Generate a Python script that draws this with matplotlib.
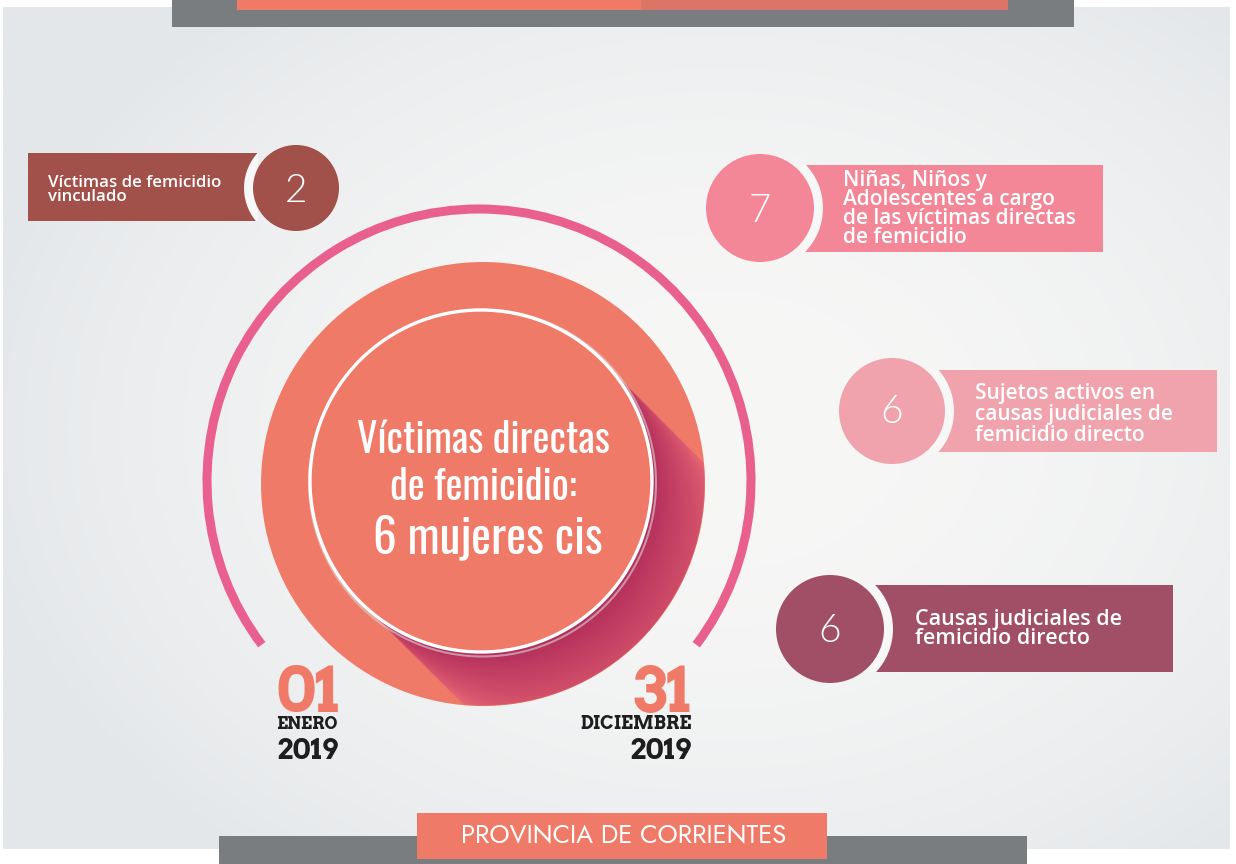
import numpy as np
import matplotlib
matplotlib.use("Agg")
import matplotlib.pyplot as plt
from matplotlib.patches import Rectangle, Circle, Arc

# ---------------- data ----------------
central_lines = ["Víctimas directas", "de femicidio:"]
central_value = "6 mujeres cis"
card_numbers = ["2", "7", "6", "6"]
card_labels = [
    "Víctimas de femicidio\nvinculado",
    "Niñas, Niños y\nAdolescentes a cargo\nde las víctimas directas\nde femicidio",
    "Sujetos activos en\ncausas judiciales de\nfemicidio directo",
    "Causas judiciales de\nfemicidio directo",
]
card_colors = ["#A2514A", "#F38797", "#F0A3AD", "#A04F67"]
start_day, start_month, start_year = "01", "ENERO", "2019"
end_day, end_month, end_year = "31", "DICIEMBRE", "2019"
province = "PROVINCIA DE CORRIENTES"

SALMON = "#F07A68"
ARC_PINK = "#E9608F"
GRAY = "#7A7D80"

W, H = 1236, 864
fig = plt.figure(figsize=(W / 100, H / 100), dpi=100)
ax = fig.add_axes([0, 0, 1, 1])
ax.set_xlim(0, W)
ax.set_ylim(H, 0)
ax.axis("off")
fig.patch.set_facecolor("white")

# ---------------- background panel (soft radial gradient) ----------------
gx = np.linspace(3, 1230, 300)
gy = np.linspace(7, 849, 220)
GX, GY = np.meshgrid(gx, gy)
d = np.sqrt(((GX - 720) / 760) ** 2 + ((GY - 430) / 560) ** 2)
d = np.clip(d, 0, 1)
c_in = np.array([247, 247, 246]) / 255
c_out = np.array([228, 231, 234]) / 255
k = d[..., None] ** 2.0
bg = c_in[None, None, :] * (1 - k) + c_out[None, None, :] * k
ax.imshow(bg, extent=(3, 1230, 849, 7), origin="upper", interpolation="bilinear", zorder=0)

# ---------------- top bar ----------------
ax.add_patch(Rectangle((172, 0), 902, 27, facecolor=GRAY, edgecolor="none", zorder=1))
ax.add_patch(Rectangle((237, 0), 404, 10, facecolor=SALMON, edgecolor="none", zorder=2))
ax.add_patch(Rectangle((641, 0), 367, 10, facecolor="#DC7467", edgecolor="none", zorder=2))

# ---------------- bottom bar ----------------
ax.add_patch(Rectangle((219, 836), 808, 30, facecolor=GRAY, edgecolor="none", zorder=1))
ax.add_patch(Rectangle((417, 813), 410, 46, facecolor=SALMON, edgecolor="none", zorder=2))
ax.text(624, 836, province, color="white", fontsize=18.5,
        family=["Jost", "Questrial", "DejaVu Sans"],
        ha="center", va="center", zorder=3)

# ---------------- pink arc ----------------
acx, acy, ar = 479, 481, 272
ax.add_patch(Arc((acx, acy), 2 * ar, 2 * ar, theta1=143, theta2=397,
                 color=ARC_PINK, lw=6.5, zorder=2, capstyle="butt"))

# ---------------- big circle + long shadow ----------------
bcx, bcy, br = 483, 484, 222
icx, icy, ir = 481, 481, 171
ax.add_patch(Circle((bcx, bcy), br, facecolor=SALMON, edgecolor="none", zorder=3))

x0, x1, y0, y1 = bcx - br - 2, bcx + br + 2, bcy - br - 2, bcy + br + 2
nx, ny = int(x1 - x0) * 2, int(y1 - y0) * 2
xs = np.linspace(x0, x1, nx)
ys = np.linspace(y0, y1, ny)
X, Y = np.meshgrid(xs, ys)
dvec = np.array([1, 1]) / np.sqrt(2)
nvec = np.array([1, -1]) / np.sqrt(2)
px, py = X - icx, Y - icy
t = px * dvec[0] + py * dvec[1]
s = px * nvec[0] + py * nvec[1]
band = np.clip((ir - np.abs(s)) * 2, 0, 1)
t0 = np.sqrt(np.clip(ir ** 2 - s ** 2, 0, None))
dist = t - t0
ahead = np.clip(dist * 2 + 0.5, 0, 1) * (t > 0)
inbig = np.clip((br - np.sqrt((X - bcx) ** 2 + (Y - bcy) ** 2)) * 2, 0, 1)
alpha = band * ahead * inbig
u = np.clip(dist / 130.0, 0, 1) ** 0.8
dark = np.array([178, 44, 90]) / 255
light = np.array([234, 106, 118]) / 255
rgb = dark[None, None, :] * (1 - u[..., None]) + light[None, None, :] * u[..., None]
img = np.dstack([rgb, alpha])
ax.imshow(img, extent=(x0, x1, y1, y0), origin="upper", interpolation="bilinear", zorder=4)

# inner circle with white rim and faint shadow
ax.add_patch(Circle((icx + 1.5, icy + 2), ir + 2.5, facecolor="none", edgecolor="#D9D4D4",
                    lw=1.5, zorder=5, alpha=0.6))
ax.add_patch(Circle((icx, icy), ir, facecolor=SALMON, edgecolor="white", lw=2.4, zorder=6))

cond = dict(family=["Oswald", "DejaVu Sans"], color="white", ha="center",
            va="baseline", zorder=7)
ax.text(483, 453, central_lines[0], fontsize=29, fontweight=300, **cond)
ax.text(483, 500, central_lines[1], fontsize=29, fontweight=300, **cond)
ax.text(488, 553, central_value, fontsize=34, fontweight="bold", **cond)

# ---------------- cards ----------------
cards = [
    # rect (x, y, w, h), circle (cx, cy, r), text x, first baseline, line step, fontsize, number baseline
    dict(rect=(28, 153, 230, 68), circ=(296, 188, 43), tx=48, ty=187, step=14, fs=12.2, nb=202),
    dict(rect=(800, 165, 303, 87), circ=(760, 208, 54), tx=843, ty=186, step=19, fs=15, nb=222),
    dict(rect=(930, 370, 287, 82), circ=(892, 411, 53), tx=975, ty=399, step=21, fs=15, nb=423),
    dict(rect=(870, 585, 303, 87), circ=(830, 629, 54), tx=915, ty=625, step=19.5, fs=15.5, nb=642),
]
for i, cfg in enumerate(cards):
    col = card_colors[i]
    rx, ry, rw, rh = cfg["rect"]
    rect = Rectangle((rx, ry), rw, rh, facecolor=col, edgecolor="none", zorder=2)
    ax.add_patch(rect)
    cx, cy, r = cfg["circ"]
    ring = Circle((cx, cy), r + 9, facecolor="#F7F7F7", edgecolor="none", zorder=3)
    ax.add_patch(ring)
    ring.set_clip_path(rect)
    ax.add_patch(Circle((cx, cy), r, facecolor=col, edgecolor="none", zorder=4))
    ax.text(cx, cfg["nb"], card_numbers[i], color="white", fontsize=28, family="Lato",
            fontweight=300, ha="center", va="baseline", zorder=5)
    for j, line in enumerate(card_labels[i].split("\n")):
        ax.text(cfg["tx"], cfg["ty"] + j * cfg["step"], line, color="white",
                fontsize=cfg["fs"], family="Open Sans", fontweight="semibold",
                ha="left", va="baseline", zorder=5)

# ---------------- dates ----------------
serif = dict(family=["Arvo", "Roboto Slab", "DejaVu Serif"], fontweight="bold",
             va="baseline", zorder=5)
ax.text(275, 712, start_day, color=SALMON, fontsize=45, ha="left", **serif)
ax.text(276, 729, start_month, color="#1E1E1E", fontsize=12, ha="left", **serif)
ax.text(276, 759, start_year, color="#1E1E1E", fontsize=20.5, ha="left", **serif)
ax.text(691, 712, end_day, color=SALMON, fontsize=45, ha="right", **serif)
ax.text(692, 729, end_month, color="#1E1E1E", fontsize=13, ha="right", **serif)
ax.text(691, 759, end_year, color="#1E1E1E", fontsize=20.5, ha="right", **serif)

fig.savefig("out.png", dpi=100, facecolor="white")
